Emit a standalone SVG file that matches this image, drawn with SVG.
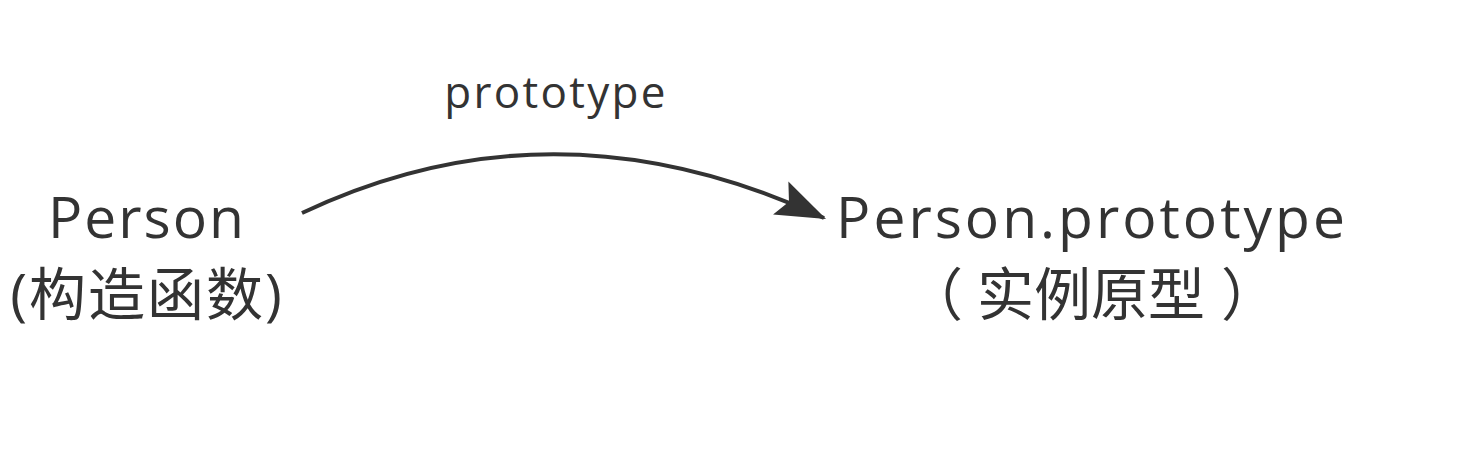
<svg xmlns="http://www.w3.org/2000/svg" width="1484" height="450" viewBox="0 0 1484 450">
<defs>
<style>
.t{font-family:"Open Sans","Noto Sans CJK SC",sans-serif;fill:#333;text-anchor:middle}
.big{font-size:57px;letter-spacing:2px}
.wide{letter-spacing:3px}
.cjk{letter-spacing:0}
.lbl{font-size:44px;letter-spacing:2.3px}
.edge{fill:none;stroke:#333;stroke-width:4}
</style>
<marker id="ah" markerUnits="userSpaceOnUse" markerWidth="50" markerHeight="40" viewBox="0 0 44 32" refX="42" refY="16" orient="auto">
<path d="M0,0 L44,16 L0,32 L8,16 Z" fill="#333"/>
</marker>
</defs>
<rect width="1484" height="450" fill="#fff"/>
<g id="edges">
<path class="edge" d="M302,213 Q555,93 824,218" marker-end="url(#ah)"/>
<text class="t lbl" x="556" y="108">prototype</text>
</g>
<g id="person">
<text class="t big" x="147" y="238">Person</text>
<text class="t big" x="147" y="315">(构造函数)</text>
</g>
<g id="proto">
<text class="t big wide" x="1092" y="238">Person.prototype</text>
<text class="t big cjk" x="1092" y="315">（<tspan dx="14">实例原型</tspan><tspan dx="16">）</tspan></text>
</g>
</svg>
